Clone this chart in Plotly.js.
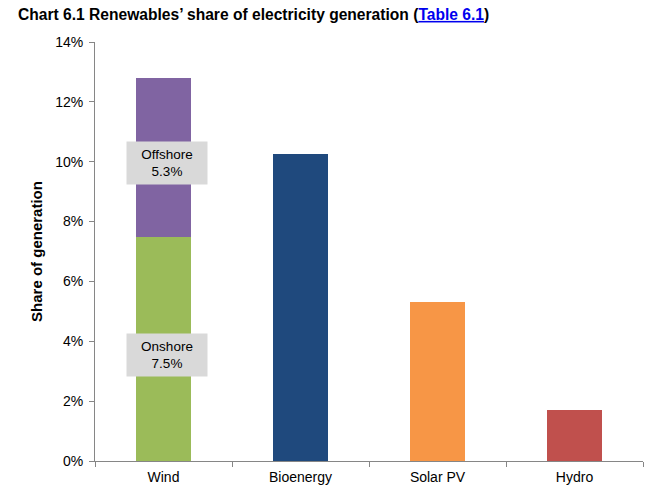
<!DOCTYPE html>
<html>
<head>
<meta charset="utf-8">
<script src="https://cdn.plot.ly/plotly-3.0.1.min.js"></script>
<style>html,body{margin:0;padding:0;background:#fff;}#chart{width:659px;height:496px;}</style>
</head>
<body>
<div id="chart"></div>
<script>
const categories = ["Wind", "Bioenergy", "Solar PV", "Hydro"];
const onshore = [7.5];
const offshore = [5.3];
const others = ["Bioenergy", "Solar PV", "Hydro"];
const otherValues = [10.25, 5.3, 1.7];
const otherColors = ["#1F497D", "#F79646", "#C0504D"];
const yTicks = [0, 2, 4, 6, 8, 10, 12, 14];
const yTickText = yTicks.map(v => v + "%");

const font = "Liberation Sans, Arial, sans-serif";

const traces = [
  {type: "bar", x: ["Wind"], y: onshore, marker: {color: "#9BBB59"}, width: 0.4, hoverinfo: "none"},
  {type: "bar", x: ["Wind"], y: offshore, marker: {color: "#8064A2"}, width: 0.4, hoverinfo: "none"},
  {type: "bar", x: others, y: otherValues, marker: {color: otherColors}, width: 0.4, hoverinfo: "none"}
];

const layout = {
  width: 659, height: 496,
  margin: {l: 95, r: 16, t: 42, b: 35},
  barmode: "stack",
  showlegend: false,
  paper_bgcolor: "#fff", plot_bgcolor: "#fff",
  font: {family: font, size: 12, color: "#000"},
  title: {
    text: "<b>Chart 6.1 Renewables’ share of electricity generation (<span style='color:#0000EE'><u>Table 6.1</u></span>)</b>",
    x: 0, xref: "container", xanchor: "left", y: 1, yref: "container", yanchor: "top",
    pad: {t: 9, l: 18},
    font: {family: font, size: 15.6, color: "#000"}
  },
  xaxis: {
    type: "category", categoryorder: "array", categoryarray: categories,
    range: [-0.5, 3.5],
    showline: true, linecolor: "#868686", linewidth: 1,
    ticks: "outside", tickson: "boundaries", ticklen: 5, tickcolor: "#868686",
    showgrid: false, zeroline: false,
    ticklabelstandoff: 3,
    tickfont: {family: font, size: 14, color: "#000"}
  },
  yaxis: {
    range: [0, 14], tickvals: yTicks, ticktext: yTickText,
    showline: true, linecolor: "#868686", linewidth: 1,
    ticks: "outside", ticklen: 5, tickcolor: "#868686",
    showgrid: false, zeroline: false,
    ticklabelstandoff: 3,
    tickfont: {family: font, size: 14, color: "#000"},
    title: {text: "<b>Share of generation</b>", font: {family: font, size: 15, color: "#000"}, standoff: 8}
  },
  annotations: [
    {x: "Wind", y: onshore[0] / 2, text: "Onshore<br>" + onshore[0].toFixed(1) + "%", showarrow: false,
     bgcolor: "#D9D9D9", width: 78, height: 40, yshift: -6, xshift: 3, font: {family: font, size: 13.5, color: "#000"}},
    {x: "Wind", y: onshore[0] + offshore[0] / 2, text: "Offshore<br>" + offshore[0].toFixed(1) + "%", showarrow: false,
     bgcolor: "#D9D9D9", width: 78, height: 40, yshift: -6, xshift: 3, font: {family: font, size: 13.5, color: "#000"}}
  ]
};

Plotly.newPlot("chart", traces, layout, {staticPlot: true, displayModeBar: false});
</script>
</body>
</html>
